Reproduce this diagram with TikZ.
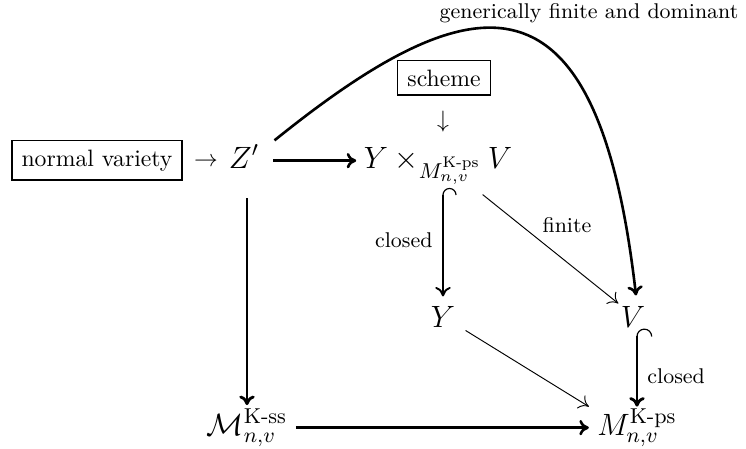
\RequirePackage{fix-cm}
\documentclass[tikz,border=0pt]{standalone}
\usepackage{amsmath}
\usetikzlibrary{arrows.meta,calc}
\begin{document}
\begin{tikzpicture}[x=0.4219pt,y=-0.4219pt,
  mnode/.style={inner sep=0pt, font=\fontsize{13}{16}\selectfont},
  boxnode/.style={draw, line width=0.8pt, inner xsep=4.2pt, inner ysep=3.8pt, font=\fontsize{10}{12}\selectfont},
  tnode/.style={inner sep=0pt, font=\fontsize{10}{12}\selectfont},
  lbl/.style={inner sep=0pt, font=\fontsize{9}{11}\selectfont},
  tip/.style={-{Computer Modern Rightarrow[length=4pt,width=6.5pt]}},
  heavy/.style={tip, line width=1.2pt},
  medium/.style={tip, line width=0.8pt},
  light/.style={tip, line width=0.4pt},
  hookline/.style={line width=0.5pt},
]
\useasboundingbox (0,0) rectangle (746,449);
% text nodes
\node[boxnode, anchor=base] (nv) at (97,166) {normal variety};
\node[tnode, anchor=base] (to) at (206,166) {$\to$};
\node[boxnode, anchor=base] (sch) at (444,86) {scheme};
\node[tnode, anchor=base] (dn) at (443,127) {$\downarrow$};
% math nodes
\node[mnode, anchor=base] (Z) at (244,168) {$Z'$};
\node[mnode, anchor=base] (P) at (438,168) {$Y\times_{M^{\text{K-ps}}_{n,v}} V$};
\node[mnode, anchor=base] (Yn) at (443,327) {$Y$};
\node[mnode, anchor=base] (V) at (633,327) {$V$};
\node[mnode, anchor=base] (Mss) at (247,435) {$\mathcal{M}^{\text{K-ss}}_{n,v}$};
\node[mnode, anchor=base] (Mps) at (637,435) {$M^{\text{K-ps}}_{n,v}$};
% labels
\node[lbl, anchor=east] (lc1) at (433,240) {closed};
\node[lbl, anchor=west] (lc2) at (647,376) {closed};
\node[lbl] (lf) at (567,225) {finite};
\node[lbl] (lg) at (589,13) {generically finite and dominant};
% arrows
\draw[heavy, line width=1.1pt, shorten <=5.7pt, shorten >=3pt] ([yshift=3.1pt]Z.base east) -- ([yshift=3.1pt]P.base west);
\draw[heavy, shorten <=12.5pt, shorten >=1.5pt] (Mss.north |- Z.south) -- (Mss.north);
\draw[heavy, line width=1.1pt, shorten <=3.5pt, shorten >=3.4pt] ([yshift=3.1pt]Mss.base east) -- ([yshift=3.1pt]Mps.base west);
\coordinate (h1) at ($(Yn.north |- P.base)+(0,27)$);
\draw[medium, shorten >=3.8pt] (h1) -- (Yn.north);
\draw[hookline] (h1) arc[start angle=180, end angle=0, radius=2.75pt];
\draw[light] ([shift={(-30,10)}]P.south east) -- ([shift={(-2,-2)}]V.north west);
\draw[light] ([shift={(10,3)}]Yn.south east) -- ([shift={(-8,-2)}]Mps.north west);
\coordinate (h2) at ($(Mps.north |- V.south)+(0,9)$);
\draw[heavy] (h2) -- ($(h2 |- Mps.north)+(0,-2)$);
\draw[hookline] (h2) arc[start angle=180, end angle=0, radius=3.1pt];
\draw[heavy, line width=1.1pt] ([shift={(15,-4)}]Z.north east) .. controls (477,-23) and (598,-38) .. ([shift={(3,-10)}]V.north);
\end{tikzpicture}
\end{document}
